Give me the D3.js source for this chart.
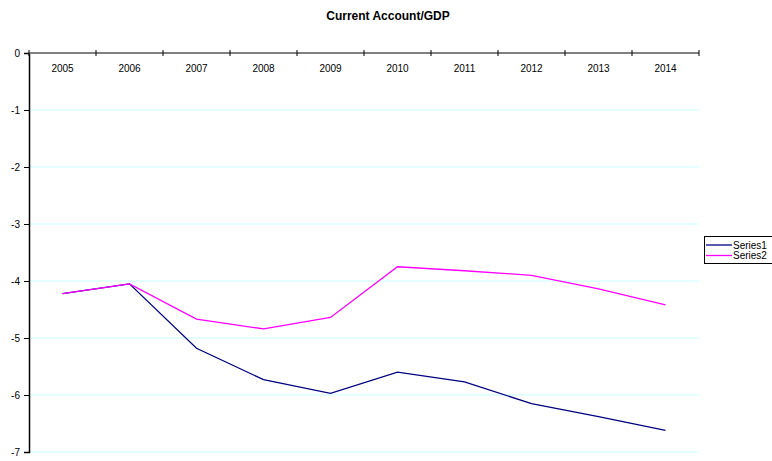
<!DOCTYPE html>
<html><head><meta charset="utf-8">
<script src="https://cdn.jsdelivr.net/npm/d3@7/dist/d3.min.js"></script>
<style>body{margin:0;background:#fff;} text{font-family:"Liberation Sans",Arial,sans-serif;}</style>
</head><body><svg id="c" width="772" height="461"></svg>
<script>
const years = ["2005","2006","2007","2008","2009","2010","2011","2012","2013","2014"];
const series1 = [-4.22,-4.05,-5.18,-5.73,-5.97,-5.60,-5.77,-6.15,-6.38,-6.62];
const series2 = [-4.22,-4.05,-4.67,-4.84,-4.64,-3.75,-3.82,-3.90,-4.14,-4.42];
const yTicks = [0,-1,-2,-3,-4,-5,-6,-7];
const seriesNames = ["Series1","Series2"];
const colors = ["#000080","#ff00ff"];

const svg = d3.select("#c");
const L = 29, R = 699, T = 53, B = 452;
const x = d3.scaleBand().domain(years).range([L, R]);
const y = d3.scaleLinear().domain([-7, 0]).range([B, T]);

svg.append("text").attr("x", 388).attr("y", 20).attr("text-anchor","middle")
  .attr("font-size", 12).attr("font-weight","bold").text("Current Account/GDP");

// gridlines
svg.append("g").selectAll("line").data(yTicks.filter(d=>d!==0)).join("line")
  .attr("x1", L).attr("x2", R).attr("y1", d=>y(d)).attr("y2", d=>y(d))
  .attr("stroke","#c8ffff").attr("stroke-width",1);

// y axis
const ya = svg.append("g").attr("transform",`translate(${L},0)`)
  .call(d3.axisLeft(y).tickValues(yTicks).tickSize(5).tickFormat(d=>String(d)));
ya.select(".domain").attr("stroke","#000").attr("stroke-width",1.5);
ya.selectAll(".tick line").attr("stroke","#000");
ya.selectAll("text").attr("font-size",10).attr("fill","#000").attr("x",-9);

// top category axis at y=0
const xa = svg.append("g").attr("transform",`translate(0,${y(0)})`);
xa.append("line").attr("x1",L).attr("x2",R).attr("stroke","#808080").attr("stroke-width",2);
const bounds = years.map(d=>x(d)).concat([R]);
xa.selectAll("line.tk").data(bounds).join("line").attr("class","tk")
  .attr("x1",d=>d).attr("x2",d=>d).attr("y1",-3).attr("y2",3).attr("stroke","#000");
xa.selectAll("text").data(years).join("text")
  .attr("x",d=>x(d)+x.bandwidth()/2).attr("y",19).attr("text-anchor","middle")
  .attr("font-size",10).attr("fill","#000").text(d=>d);

// lines
const line = d3.line().x((d,i)=>x(years[i])+x.bandwidth()/2).y(d=>y(d));
[series1, series2].forEach((s,i)=>{
  svg.append("path").attr("d", line(s)).attr("fill","none")
    .attr("stroke", colors[i]).attr("stroke-width",1.3);
});

// legend
const lg = svg.append("g");
lg.append("rect").attr("x",704.5).attr("y",236.5).attr("width",70).attr("height",27)
  .attr("fill","#fff").attr("stroke","#000");
seriesNames.forEach((n,i)=>{
  const yy = 245 + i*10.5;
  lg.append("line").attr("x1",706).attr("x2",732).attr("y1",yy).attr("y2",yy)
    .attr("stroke",colors[i]).attr("stroke-width",1.3);
  lg.append("text").attr("x",733).attr("y",yy+3.5).attr("font-size",10).attr("fill","#000").text(n);
});
</script></body></html>
